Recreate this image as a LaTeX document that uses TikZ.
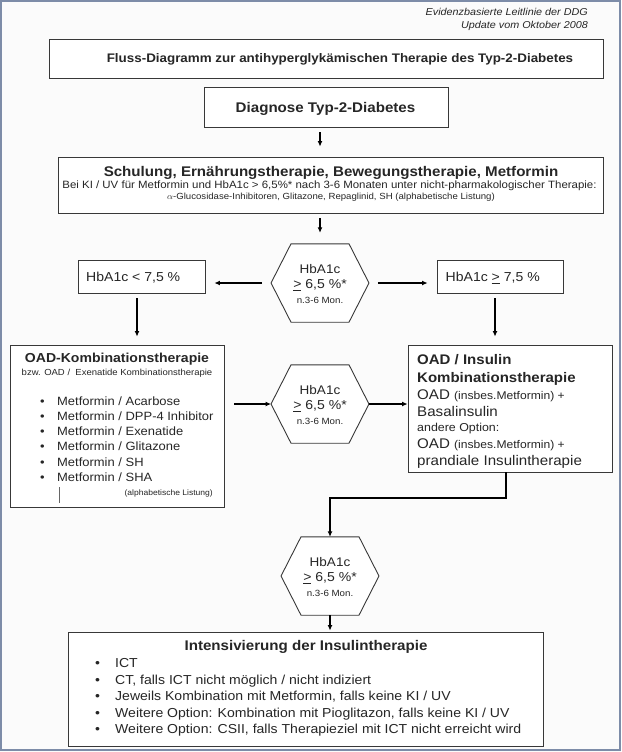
\documentclass[tikz,border=0pt]{standalone}
\usepackage{fontspec}
\setmainfont[FakeStretch=1.08]{Liberation Sans}
\setsansfont[FakeStretch=1.08]{Liberation Sans}
\usetikzlibrary{arrows.meta,calc}
\definecolor{framecol}{HTML}{7D8CA8}
\definecolor{boxcol}{HTML}{383838}
\definecolor{bgcol}{HTML}{FBFBFB}
\newcommand{\fs}[1]{\fontsize{#1}{#1}\selectfont}
\newcommand{\geu}{\underline{>}}
\newcommand{\drawhex}[1]{\draw[hexline] (#1.west) -- ([xshift=-29pt]#1.north) -- ([xshift=29pt]#1.north) -- (#1.east) -- ([xshift=29pt]#1.south) -- ([xshift=-29pt]#1.south) -- cycle;}
\newcommand{\hexnode}[3]{%
  \node[hexn] (#1) at (#2,#3) {};
  \drawhex{#1}
  \node[txt, anchor=base, font=\fs{12.5}] (#1a) at ($(#1)+(0,-9.5)$) {HbA1c};
  \node[txt, anchor=base, font=\fs{13}] (#1b) at ($(#1)+(0,5.5)$) {\geu\ 6,5 \%*};
  \node[txt, anchor=base, font=\fs{9}] (#1c) at ($(#1)+(0,20)$) {n.3-6 Mon.};
}
\begin{document}
\begin{tikzpicture}[x=1pt,y=-1pt,
  box/.style={draw=boxcol, line width=0.9pt, fill=white, inner sep=0pt},
  txt/.style={inner sep=0pt, text=black!85},
  hexn/.style={draw=none, minimum width=97.5pt, minimum height=78pt, inner sep=0pt},
  hexline/.style={draw=boxcol, line width=0.9pt, fill=white},
  arr/.style={draw=black, line width=1.6pt, -{Latex[length=5.5pt,width=5pt]}},
  bul/.style={txt, anchor=base west, font=\fs{12}},
  fbul/.style={txt, anchor=base west, font=\fs{13}},
]
\useasboundingbox (0,0) rectangle (621,752);
\fill[bgcol] (0,0) rectangle (621,752);
\draw[framecol, line width=2pt] (1,1) rectangle (620,750);

% header
\node[txt, anchor=base east, font=\fs{10}\itshape] (hd1) at (588,16) {Evidenzbasierte Leitlinie der DDG};
\node[txt, anchor=base east, font=\fs{10}\itshape] (hd2) at (588,28.5) {Update vom Oktober 2008};

% title
\node[box, minimum width=554pt, minimum height=39pt] (title) at (326,58.5) {};
\node[txt, anchor=base, font=\fs{12.4}\bfseries] (titlet) at (340,63) {Fluss-Diagramm zur antihyperglykämischen Therapie des Typ-2-Diabetes};

% diagnose
\node[box, minimum width=244pt, minimum height=40pt] (diag) at (326,107) {};
\node[txt, anchor=base, font=\fs{14}\bfseries] (diagt) at (325.5,112) {Diagnose Typ-2-Diabetes};

% Schulung
\node[box, minimum width=544.5pt, minimum height=56pt] (schul) at (330.8,185) {};
\node[txt, anchor=base, font=\fs{14}\bfseries] (schula) at (331,176.5) {Schulung, Ernährungstherapie, Bewegungstherapie, Metformin};
\node[txt, anchor=base, font=\fs{10.6}] (schulb) at (329.5,188) {Bei KI / UV für Metformin und HbA1c > 6,5\%* nach 3-6 Monaten unter nicht-pharmakologischer Therapie:};
\node[txt, anchor=base, font=\fs{8.9}] (schulc) at (331,199) {$\alpha$-Glucosidase-Inhibitoren, Glitazone, Repaglinid, SH (alphabetische Listung)};

% hexagons
\hexnode{h1}{320}{283}
\hexnode{h2}{320}{404}
\hexnode{h3}{330}{576}

% HbA1c boxes
\node[box, minimum width=127pt, minimum height=33pt] (low) at (141.5,276.5) {};
\node[txt, anchor=base west, font=\fs{13}] (lowt) at (86,281.5) {HbA1c < 7,5 \%};
\node[box, minimum width=126pt, minimum height=33pt] (high) at (500,276.5) {};
\node[txt, anchor=base west, font=\fs{13}] (hight) at (445.5,281.5) {HbA1c \geu\ 7,5 \%};

% OAD box
\node[box, minimum width=214pt, minimum height=162pt] (oad) at (117,426) {};
\node[txt, anchor=base, font=\fs{13}\bfseries] (oadt) at (117,362.5) {OAD-Kombinationstherapie};
\node[txt, anchor=base, font=\fs{8.8}] (oads) at (117,375) {bzw. OAD /\ \ Exenatide Kombinationstherapie};
\node[bul] (o1) at (40,405) {\makebox[17pt][l]{•}Metformin / Acarbose};
\node[bul] (o2) at (40,420.3) {\makebox[17pt][l]{•}Metformin / DPP-4 Inhibitor};
\node[bul] (o3) at (40,435.6) {\makebox[17pt][l]{•}Metformin / Exenatide};
\node[bul] (o4) at (40,450.9) {\makebox[17pt][l]{•}Metformin / Glitazone};
\node[bul] (o5) at (40,466.2) {\makebox[17pt][l]{•}Metformin / SH};
\node[bul] (o6) at (40,481.5) {\makebox[17pt][l]{•}Metformin / SHA};
\node[txt, anchor=base east, font=\fs{7.9}] (oadl) at (213,495) {(alphabetische Listung)};
\draw[black!60, line width=0.7pt] (59,487) -- (59,503);

% OAD / Insulin box
\node[box, minimum width=204pt, minimum height=127pt] (ins) at (510,408.5) {};
\node[txt, anchor=base west, font=\fs{13.9}\bfseries] (i1) at (417,364) {OAD / Insulin};
\node[txt, anchor=base west, font=\fs{13.9}\bfseries] (i2) at (417,382) {Kombinationstherapie};
\node[txt, anchor=base west, font=\fs{14}] (i3) at (417,399) {OAD {\fs{11.2}(insbes.Metformin) +}};
\node[txt, anchor=base west, font=\fs{14}] (i4) at (417,416) {Basalinsulin};
\node[txt, anchor=base west, font=\fs{11.5}] (i5) at (417,431) {andere Option:};
\node[txt, anchor=base west, font=\fs{14}] (i6) at (417,448) {OAD {\fs{11.2}(insbes.Metformin) +}};
\node[txt, anchor=base west, font=\fs{14}] (i7) at (417,465) {prandiale Insulintherapie};

% final box
\node[box, minimum width=475pt, minimum height=114pt] (fin) at (305.5,689) {};
\node[txt, anchor=base, font=\fs{14}\bfseries] (fint) at (306,650) {Intensivierung der Insulintherapie};
\node[fbul] (f1) at (95,667.5) {\makebox[20pt][l]{•}ICT};
\node[fbul] (f2) at (95,684) {\makebox[20pt][l]{•}CT, falls ICT nicht möglich / nicht indiziert};
\node[fbul] (f3) at (95,700.5) {\makebox[20pt][l]{•}Jeweils Kombination mit Metformin, falls keine KI / UV};
\node[fbul] (f4) at (95,717) {\makebox[20pt][l]{•}Weitere Option: Kombination mit Pioglitazon, falls keine KI / UV};
\node[fbul] (f5) at (95,733.5) {\makebox[20pt][l]{•}Weitere Option: CSII, falls Therapieziel mit ICT nicht erreicht wird};

% connectors
\coordinate (colL) at (137,300);
\coordinate (colR) at (495,300);
\coordinate (bend) at (506,498);
\draw[arr, shorten <=5pt, shorten >=10pt] (h1.north |- diag.south) -- (h1.north |- schul.north);
\draw[arr, shorten <=5pt, shorten >=11pt] (h1.north |- schul.south) -- (h1.north);
\draw[arr, shorten <=9pt, shorten >=9pt] (h1.west) -- (h1.west -| low.east);
\draw[arr, shorten <=9pt, shorten >=9pt] (h1.east) -- (h1.east -| high.west);
\draw[arr, shorten <=5pt, shorten >=8pt] (colL |- low.south) -- (colL |- oad.north);
\draw[arr, shorten <=5pt, shorten >=8pt] (colR |- high.south) -- (colR |- ins.north);
\draw[arr, shorten <=10pt] (oad.east |- h2.west) -- (h2.west);
\draw[arr] (h2.east) -- (h2.east -| ins.west);
\draw[arr] (bend |- ins.south) -- (bend) -| (h3.north);
\draw[arr, shorten >=1pt] (h3.south) -- (h3.south |- fin.north);
\end{tikzpicture}
\end{document}
